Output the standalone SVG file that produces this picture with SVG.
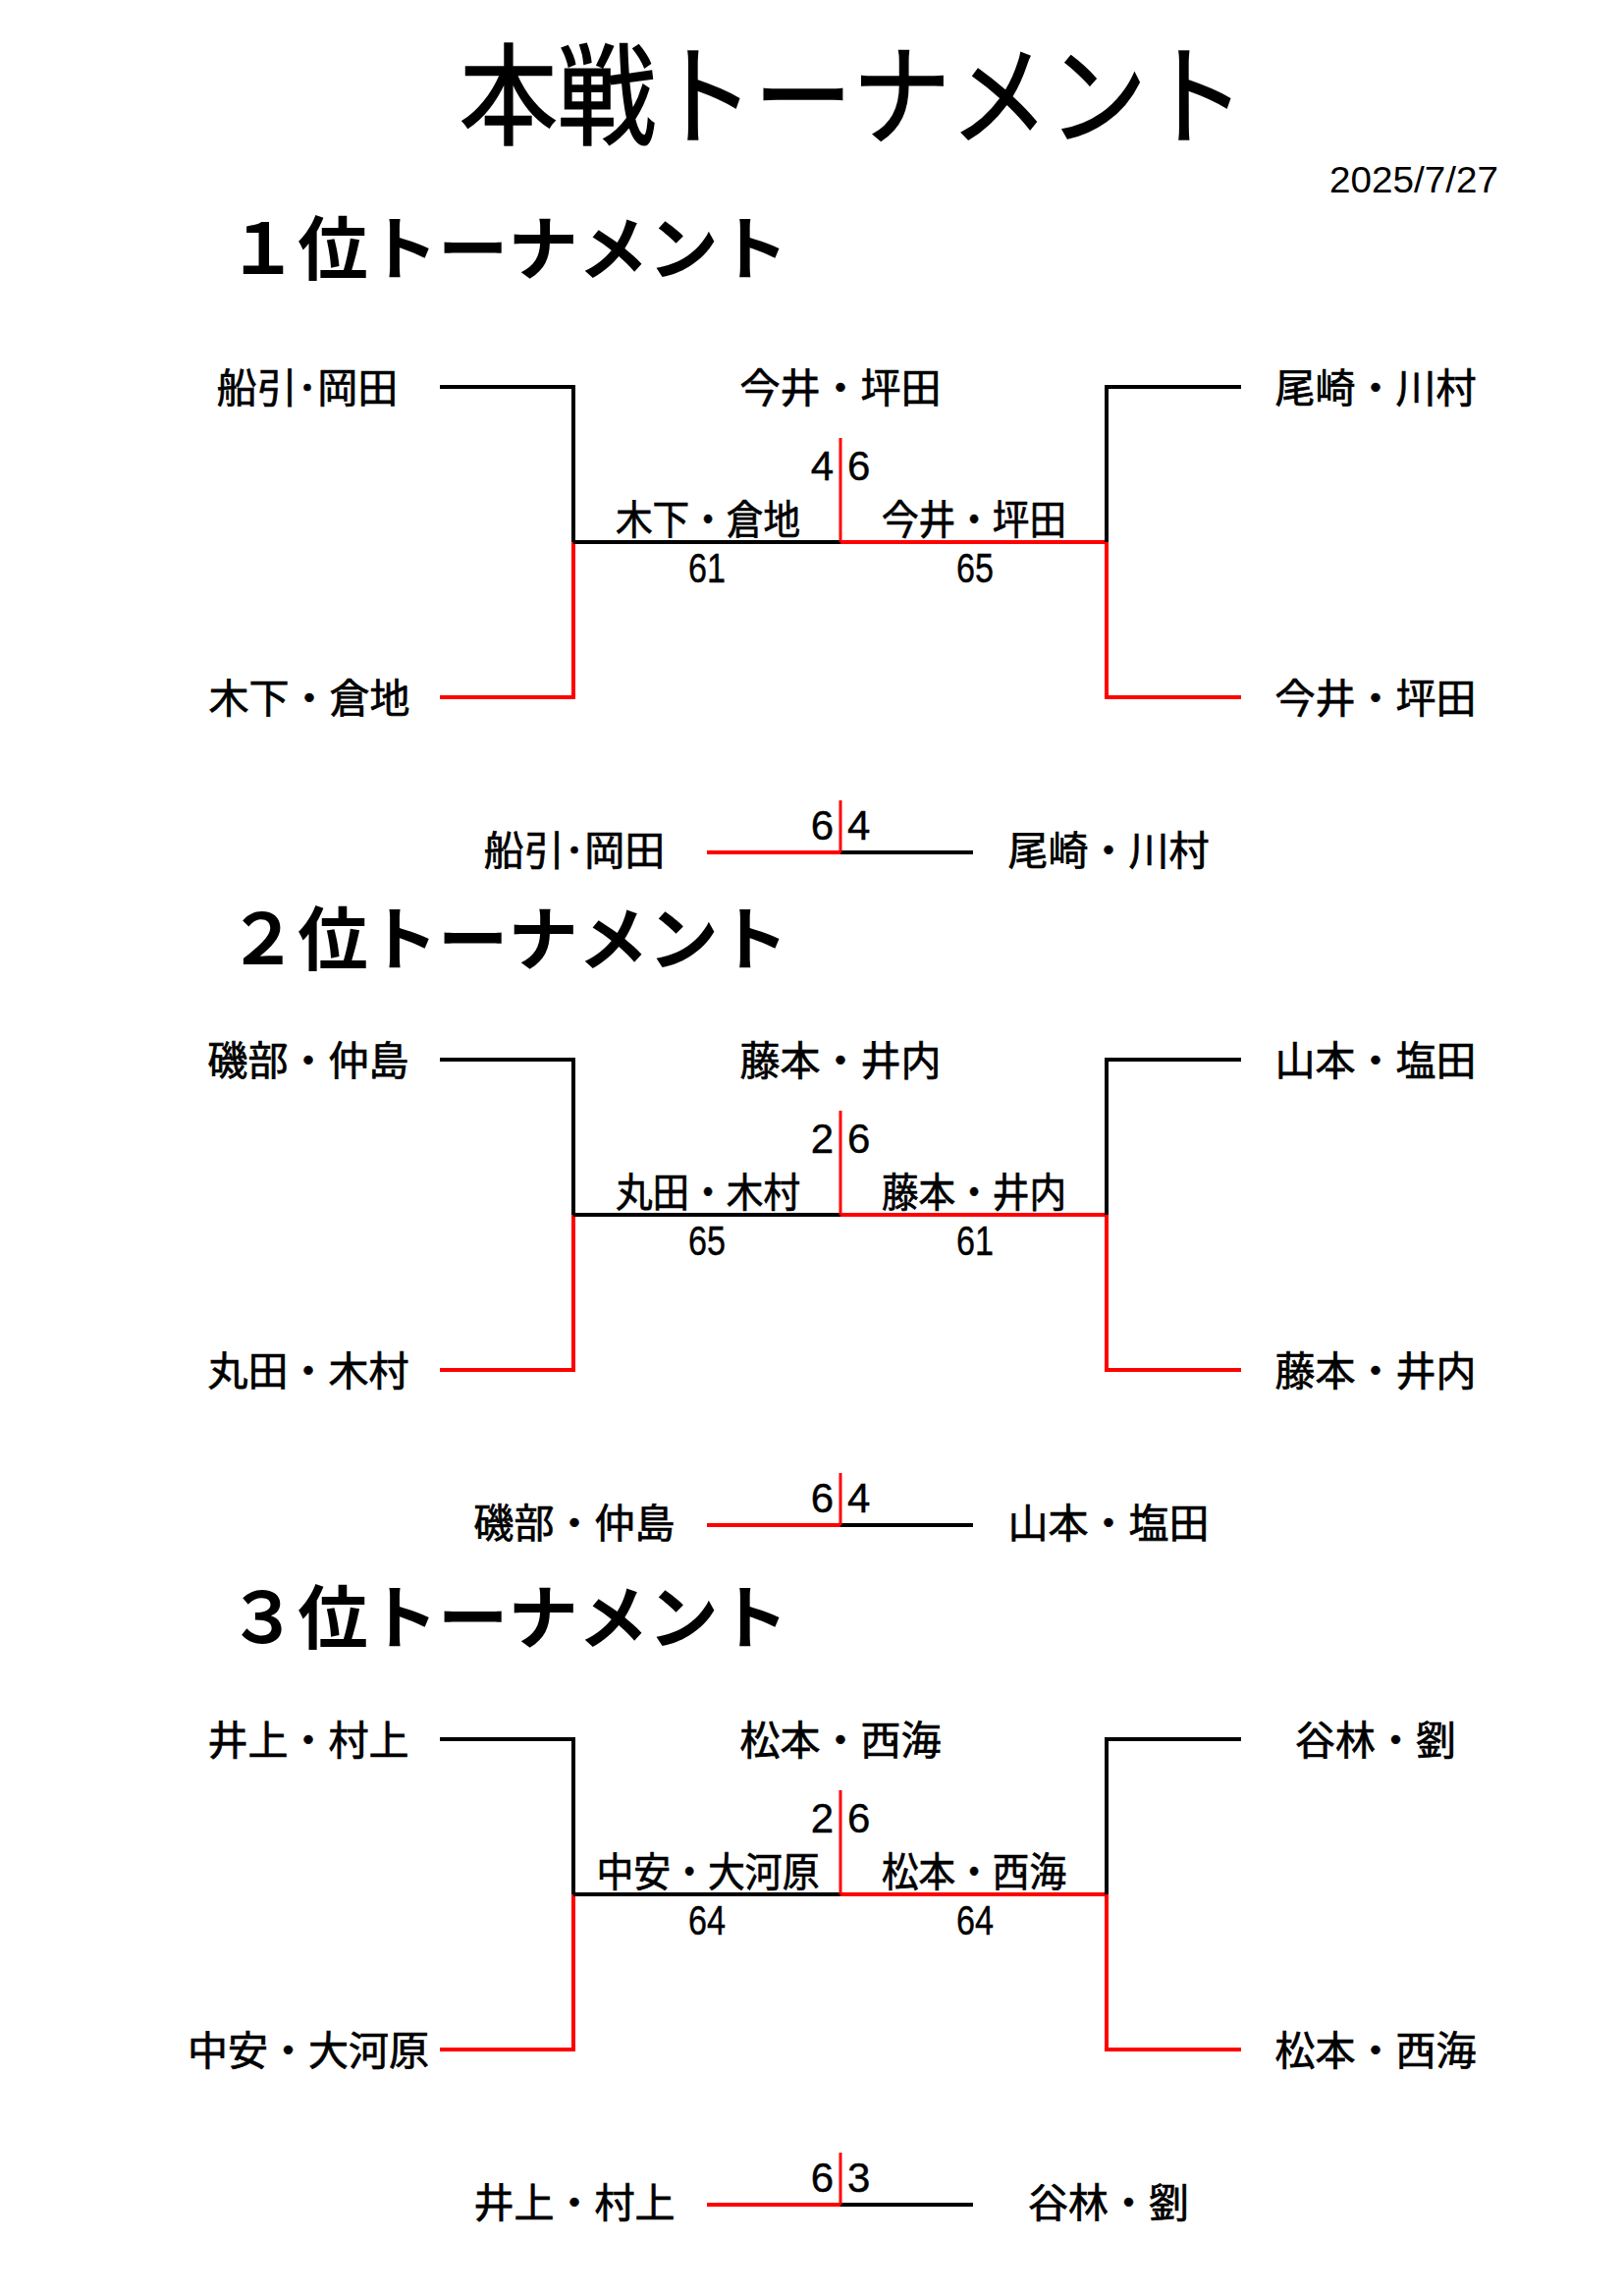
<svg xmlns="http://www.w3.org/2000/svg" width="1654" height="2338" viewBox="0 0 1654 2338">
<style>
.t{font-family:"Noto Sans CJK JP","Noto Sans CJK SC",sans-serif;fill:#000;stroke:#000;stroke-width:1.6}
.h{font-family:"Noto Sans CJK JP","Noto Sans CJK SC",sans-serif;font-weight:bold;font-size:71px;fill:#000}
.n{font-family:"Noto Sans CJK JP","Noto Sans CJK SC",sans-serif;font-size:41px;fill:#000;stroke:#000;stroke-width:0.7;text-anchor:middle}
.s{font-family:"Liberation Sans",Arial,sans-serif;font-size:42px;fill:#000;stroke:#000;stroke-width:0.4}
.d{font-family:"Liberation Sans",Arial,sans-serif;font-size:36px;fill:#000}
.c{text-anchor:middle}
.e{text-anchor:end}
.k{stroke:#000;stroke-width:4;fill:none}
.r{stroke:#f00;stroke-width:4;fill:none}
.v{stroke:#f00;stroke-width:3;fill:none}
</style>
<rect width="1654" height="2338" fill="#fff"/>
<g id="header">
<text class="t" x="468" y="139" font-size="112" textLength="800" lengthAdjust="spacingAndGlyphs">本戦トーナメント</text>
<text class="d" x="1354" y="196" textLength="172" lengthAdjust="spacingAndGlyphs">2025/7/27</text>
</g>
<g id="section-titles">
<text id="title-1" class="h" x="232" y="279" textLength="571" lengthAdjust="spacingAndGlyphs">１位トーナメント</text>
<text id="title-2" class="h" x="232" y="982" textLength="571" lengthAdjust="spacingAndGlyphs">２位トーナメント</text>
<text id="title-3" class="h" x="232" y="1673" textLength="571" lengthAdjust="spacingAndGlyphs">３位トーナメント</text>
</g>
<g id="connectors">
<g id="conn-1">
<polyline class="k" points="448,394 584,394 584,552"/>
<polyline class="r" points="584,552 584,710 448,710"/>
<line class="k" x1="584" y1="552" x2="856" y2="552"/>
<line class="r" x1="856" y1="552" x2="1127" y2="552"/>
<polyline class="k" points="1264,394 1127,394 1127,552"/>
<polyline class="r" points="1127,552 1127,710 1264,710"/>
<line class="v" x1="856" y1="446" x2="856" y2="552"/>
<line class="r" x1="720" y1="868" x2="856" y2="868"/>
<line class="k" x1="856" y1="868" x2="991" y2="868"/>
<line class="v" x1="856" y1="815" x2="856" y2="868"/>
</g>
<g id="conn-2" transform="translate(0,685)">
<polyline class="k" points="448,394 584,394 584,552"/>
<polyline class="r" points="584,552 584,710 448,710"/>
<line class="k" x1="584" y1="552" x2="856" y2="552"/>
<line class="r" x1="856" y1="552" x2="1127" y2="552"/>
<polyline class="k" points="1264,394 1127,394 1127,552"/>
<polyline class="r" points="1127,552 1127,710 1264,710"/>
<line class="v" x1="856" y1="446" x2="856" y2="552"/>
<line class="r" x1="720" y1="868" x2="856" y2="868"/>
<line class="k" x1="856" y1="868" x2="991" y2="868"/>
<line class="v" x1="856" y1="815" x2="856" y2="868"/>
</g>
<g id="conn-3" transform="translate(0,1377)">
<polyline class="k" points="448,394 584,394 584,552"/>
<polyline class="r" points="584,552 584,710 448,710"/>
<line class="k" x1="584" y1="552" x2="856" y2="552"/>
<line class="r" x1="856" y1="552" x2="1127" y2="552"/>
<polyline class="k" points="1264,394 1127,394 1127,552"/>
<polyline class="r" points="1127,552 1127,710 1264,710"/>
<line class="v" x1="856" y1="446" x2="856" y2="552"/>
<line class="r" x1="720" y1="868" x2="856" y2="868"/>
<line class="k" x1="856" y1="868" x2="991" y2="868"/>
<line class="v" x1="856" y1="815" x2="856" y2="868"/>
</g>
</g>
<g id="bracket-1">
<g id="b1-left-top"><text class="n" x="313" y="410">船引･岡田</text></g>
<g id="b1-left-bottom"><text class="n" x="315" y="726">木下・倉地</text></g>
<g id="b1-right-top"><text class="n" x="1401" y="410">尾崎・川村</text></g>
<g id="b1-right-bottom"><text class="n" x="1401" y="726">今井・坪田</text></g>
<g id="b1-winner"><text class="n" x="856" y="410">今井・坪田</text></g>
<g id="b1-final-score"><text class="s e" x="849" y="489">4</text><text class="s" x="863" y="489">6</text></g>
<g id="b1-semi-left"><text class="n" x="721" y="544" textLength="188" lengthAdjust="spacingAndGlyphs">木下・倉地</text><text class="s c" x="720" y="593" textLength="38" lengthAdjust="spacingAndGlyphs">61</text></g>
<g id="b1-semi-right"><text class="n" x="992" y="544" textLength="188" lengthAdjust="spacingAndGlyphs">今井・坪田</text><text class="s c" x="993" y="593" textLength="38" lengthAdjust="spacingAndGlyphs">65</text></g>
<g id="b1-third"><text class="n" x="585" y="881">船引･岡田</text><text class="s e" x="849" y="855">6</text><text class="s" x="863" y="855">4</text><text class="n" x="1129" y="881">尾崎・川村</text></g>
</g>
<g id="bracket-2" transform="translate(0,685)">
<g id="b2-left-top"><text class="n" x="314" y="410">磯部・仲島</text></g>
<g id="b2-left-bottom"><text class="n" x="314" y="726">丸田・木村</text></g>
<g id="b2-right-top"><text class="n" x="1401" y="410">山本・塩田</text></g>
<g id="b2-right-bottom"><text class="n" x="1401" y="726">藤本・井内</text></g>
<g id="b2-winner"><text class="n" x="856" y="410">藤本・井内</text></g>
<g id="b2-final-score"><text class="s e" x="849" y="489">2</text><text class="s" x="863" y="489">6</text></g>
<g id="b2-semi-left"><text class="n" x="721" y="544" textLength="188" lengthAdjust="spacingAndGlyphs">丸田・木村</text><text class="s c" x="720" y="593" textLength="38" lengthAdjust="spacingAndGlyphs">65</text></g>
<g id="b2-semi-right"><text class="n" x="992" y="544" textLength="188" lengthAdjust="spacingAndGlyphs">藤本・井内</text><text class="s c" x="993" y="593" textLength="38" lengthAdjust="spacingAndGlyphs">61</text></g>
<g id="b2-third"><text class="n" x="585" y="881">磯部・仲島</text><text class="s e" x="849" y="855">6</text><text class="s" x="863" y="855">4</text><text class="n" x="1129" y="881">山本・塩田</text></g>
</g>
<g id="bracket-3" transform="translate(0,1377)">
<g id="b3-left-top"><text class="n" x="314" y="410">井上・村上</text></g>
<g id="b3-left-bottom"><text class="n" x="314" y="726">中安・大河原</text></g>
<g id="b3-right-top"><text class="n" x="1401" y="410">谷林・劉</text></g>
<g id="b3-right-bottom"><text class="n" x="1401" y="726">松本・西海</text></g>
<g id="b3-winner"><text class="n" x="856" y="410">松本・西海</text></g>
<g id="b3-final-score"><text class="s e" x="849" y="489">2</text><text class="s" x="863" y="489">6</text></g>
<g id="b3-semi-left"><text class="n" x="721" y="544" textLength="227" lengthAdjust="spacingAndGlyphs">中安・大河原</text><text class="s c" x="720" y="593" textLength="38" lengthAdjust="spacingAndGlyphs">64</text></g>
<g id="b3-semi-right"><text class="n" x="992" y="544" textLength="188" lengthAdjust="spacingAndGlyphs">松本・西海</text><text class="s c" x="993" y="593" textLength="38" lengthAdjust="spacingAndGlyphs">64</text></g>
<g id="b3-third"><text class="n" x="585" y="881">井上・村上</text><text class="s e" x="849" y="855">6</text><text class="s" x="863" y="855">3</text><text class="n" x="1129" y="881">谷林・劉</text></g>
</g>
</svg>
